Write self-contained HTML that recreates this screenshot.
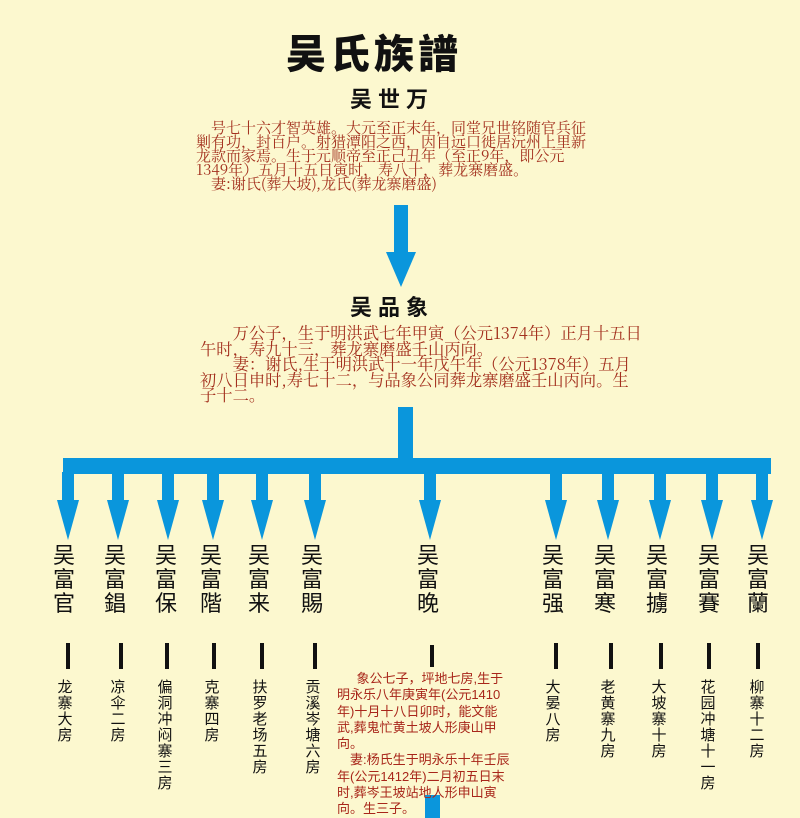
<!DOCTYPE html>
<html><head><meta charset="utf-8"><style>
body{margin:0;width:800px;height:818px;background:#fcf8cf;overflow:hidden;position:relative;font-family:"Liberation Sans","Noto Sans CJK SC",sans-serif}
.a{position:absolute}
.t{font-family:"Noto Serif CJK SC",serif;color:#a3301e;font-size:15px;line-height:14px;white-space:nowrap}
.n{position:absolute;top:544px;width:30px;margin-left:-15px;text-align:center;font-size:22px;line-height:24px;color:#111}
.h{position:absolute;top:680px;width:20px;margin-left:-10px;text-align:center;font-size:15px;line-height:16px;color:#111}
.b{position:absolute;top:643px;width:4px;margin-left:-2px;height:26px;background:#111}
</style></head><body>
<div class="a" style="left:286px;top:22px;font-size:40px;font-weight:900;letter-spacing:4px;color:#111;font-family:'Noto Sans CJK SC',sans-serif">吴氏族譜</div>
<div class="a" style="left:350px;top:82px;font-size:22px;font-weight:bold;letter-spacing:6px;color:#111">吴世万</div>
<div class="a t" style="left:196px;top:121px">&emsp;号七十六才智英雄。大元至正末年，同堂兄世铭随官兵征<br>剿有功，封百户。射猎潭阳之西，因自远口徙居沅州上里新<br>龙款而家焉。生于元顺帝至正己丑年（至正9年，即公元<br>1349年）五月十五日寅时，寿八十，葬龙寨磨盛。<br>&emsp;妻:谢氏(葬大坡),龙氏(葬龙寨磨盛)</div>
<div class="a" style="left:350px;top:290px;font-size:22px;font-weight:bold;letter-spacing:6px;color:#111">吴品象</div>
<div class="a t" style="left:200px;top:325px;font-size:16.3px;line-height:15.5px">&emsp;&emsp;万公子，生于明洪武七年甲寅（公元1374年）正月十五日<br>午时，寿九十三，葬龙寨磨盛壬山丙向。<br>&emsp;&emsp;妻：谢氏,生于明洪武十一年戊午年（公元1378年）五月<br>初八日申时,寿七十二，与品象公同葬龙寨磨盛壬山丙向。生<br>子十二。</div>
<svg class="a" style="left:0;top:0" width="800" height="818">
<g fill="#0a96dc">
<rect x="394" y="205" width="14" height="48"/><polygon points="386,252 416,252 401,287"/>
<rect x="398" y="407" width="15" height="53"/>
<rect x="63" y="458" width="708" height="16"/>
<rect x="425" y="795" width="15" height="23"/>
</g>
<g fill="#0a96dc" id="arr"></g>
</svg>
<script>
var xs=[68,118,168,213,262,315,430,556,608,660,712,762],g=document.getElementById('arr'),s='';
xs.forEach(function(x){s+='<rect x="'+(x-6)+'" y="472" width="12" height="30"/><polygon points="'+(x-11)+',500 '+(x+11)+',500 '+x+',540"/>';});
g.innerHTML=s;
</script>
<div class="n" style="left:64px">吴<br>富<br>官</div>
<div class="n" style="left:115px">吴<br>富<br>錩</div>
<div class="n" style="left:166px">吴<br>富<br>保</div>
<div class="n" style="left:211px">吴<br>富<br>階</div>
<div class="n" style="left:259px">吴<br>富<br>来</div>
<div class="n" style="left:312px">吴<br>富<br>賜</div>
<div class="n" style="left:428px">吴<br>富<br>晚</div>
<div class="n" style="left:553px">吴<br>富<br>强</div>
<div class="n" style="left:605px">吴<br>富<br>寒</div>
<div class="n" style="left:657px">吴<br>富<br>擄</div>
<div class="n" style="left:709px">吴<br>富<br>賽</div>
<div class="n" style="left:758px">吴<br>富<br>蘭</div>
<div class="b" style="left:68px"></div><div class="b" style="left:121px"></div><div class="b" style="left:167px"></div><div class="b" style="left:214px"></div><div class="b" style="left:262px"></div><div class="b" style="left:315px"></div><div class="b" style="left:432px;top:645px;height:22px"></div><div class="b" style="left:556px"></div><div class="b" style="left:611px"></div><div class="b" style="left:661px"></div><div class="b" style="left:709px"></div><div class="b" style="left:758px"></div>
<div class="h" style="left:65px">龙<br>寨<br>大<br>房</div>
<div class="h" style="left:118px">凉<br>伞<br>二<br>房</div>
<div class="h" style="left:165px">偏<br>洞<br>冲<br>闷<br>寨<br>三<br>房</div>
<div class="h" style="left:212px">克<br>寨<br>四<br>房</div>
<div class="h" style="left:260px">扶<br>罗<br>老<br>场<br>五<br>房</div>
<div class="h" style="left:313px">贡<br>溪<br>岑<br>塘<br>六<br>房</div>
<div class="h" style="left:553px">大<br>晏<br>八<br>房</div>
<div class="h" style="left:608px">老<br>黄<br>寨<br>九<br>房</div>
<div class="h" style="left:659px">大<br>坡<br>寨<br>十<br>房</div>
<div class="h" style="left:708px">花<br>园<br>冲<br>塘<br>十<br>一<br>房</div>
<div class="h" style="left:757px">柳<br>寨<br>十<br>二<br>房</div>
<div class="a t" style="left:337px;top:671px;font-family:'Liberation Sans','Noto Sans CJK SC',sans-serif;font-size:13px;line-height:16.3px;color:#a8261a">&emsp;&ensp;象公七子，坪地七房,生于<br>明永乐八年庚寅年(公元1410<br>年)十月十八日卯时，能文能<br>武,葬鬼忙黄土坡人形庚山甲<br>向。<br>&emsp;妻:杨氏生于明永乐十年壬辰<br>年(公元1412年)二月初五日末<br>时,葬岑王坡站地人形申山寅<br>向。生三子。</div>
</body></html>
